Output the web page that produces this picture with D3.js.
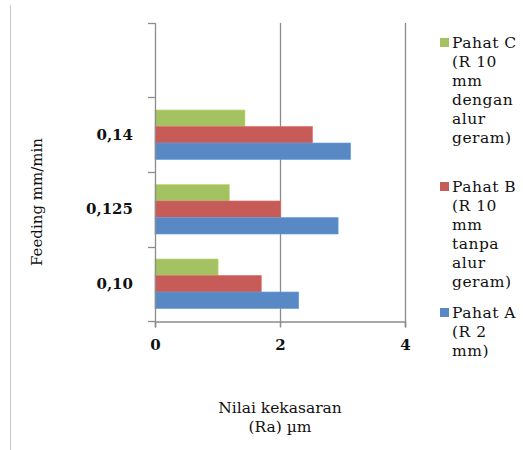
<!DOCTYPE html>
<html><head><meta charset="utf-8">
<script src="https://cdn.jsdelivr.net/npm/d3@7/dist/d3.min.js"></script>
<style>body{margin:0;background:#fff}svg{display:block}</style>
</head><body>
<svg id="c" width="523" height="450"></svg>
<script>
// Data
const categories = ["0,14", "0,125", "0,10"];          // top to bottom
const seriesNames = ["Pahat C", "Pahat B", "Pahat A"]; // top bar to bottom bar in each group
const pahatC = [1.44, 1.19, 1.01];
const pahatB = [2.52, 2.01, 1.70];
const pahatA = [3.13, 2.93, 2.30];
const xTicks = [0, 2, 4];
const legendLabels = [
  ["Pahat C", "(R 10", "mm", "dengan", "alur", "geram)"],
  ["Pahat B", "(R 10", "mm", "tanpa", "alur", "geram)"],
  ["Pahat A", "(R 2", "mm)"]
];
const colors = ["#a5c262", "#c75b58", "#5889c4"];

const svg = d3.select("#c");
const serif = "'DejaVu Serif', serif";

// left border line
svg.append("line").attr("x1", 10.5).attr("x2", 10.5).attr("y1", 5).attr("y2", 450)
  .attr("stroke", "#c8c8c8").attr("stroke-width", 1);

const x = d3.scaleLinear().domain([0, 4]).range([155, 405]);
const yDomain = [""].concat(categories); // blank top slot
const y = d3.scaleBand().domain(yDomain).range([23, 321]).paddingInner(0.335).paddingOuter(0.1675);
const inner = d3.scaleBand().domain(seriesNames).range([0, y.bandwidth()]);

const values = [pahatC, pahatB, pahatA];

// gridlines
svg.append("g").selectAll("line").data(xTicks.filter(t => t > 0)).join("line")
  .attr("x1", d => Math.round(x(d)) + 0.5).attr("x2", d => Math.round(x(d)) + 0.5)
  .attr("y1", 23).attr("y2", 327)
  .attr("stroke", "#8c8c8c").attr("stroke-width", 1.3);

// bars
categories.forEach((cat, ci) => {
  seriesNames.forEach((s, si) => {
    svg.append("rect")
      .attr("x", x(0))
      .attr("y", y(cat) + inner(s))
      .attr("width", x(values[si][ci]) - x(0))
      .attr("height", inner.bandwidth())
      .attr("fill", colors[si])
      .attr("stroke", d3.color(colors[si]).brighter(0.4))
      .attr("stroke-width", 0.6);
  });
});

// y axis line + ticks at band boundaries
const step = y.step();
const bounds = yDomain.map(d => y(d) - step * y.paddingInner() / 2).concat([321]);
svg.append("line").attr("x1", 155.5).attr("x2", 155.5).attr("y1", 23).attr("y2", 327)
  .attr("stroke", "#8c8c8c").attr("stroke-width", 1.3);
svg.append("g").selectAll("line").data(bounds).join("line")
  .attr("x1", 148).attr("x2", 155.5)
  .attr("y1", d => Math.round(d) + 0.5).attr("y2", d => Math.round(d) + 0.5)
  .attr("stroke", "#8c8c8c").attr("stroke-width", 1.3);

// x axis
const xAxis = d3.axisBottom(x).tickValues(xTicks).tickSize(6).tickFormat(d3.format("d"));
const gx = svg.append("g").attr("transform", "translate(0,321.5)").call(xAxis);
gx.select(".domain").attr("stroke", "#8c8c8c").attr("stroke-width", 1.3);
gx.selectAll(".tick line").attr("stroke", "#8c8c8c").attr("stroke-width", 1.3);
gx.selectAll(".tick text").attr("y", 28).attr("dy", 0)
  .attr("font-family", serif).attr("font-weight", "bold").attr("font-size", 15).attr("fill", "#111");

// y category labels
svg.append("g").selectAll("text").data(categories).join("text")
  .attr("x", 133).attr("y", d => y(d) + y.bandwidth() / 2 + 5)
  .attr("text-anchor", "end").attr("font-family", serif).attr("font-weight", "bold")
  .attr("font-size", 15).attr("fill", "#111").text(d => d);

// axis titles
svg.append("text").attr("transform", "translate(42,202) rotate(-90)")
  .attr("text-anchor", "middle").attr("font-family", serif).attr("font-size", 15)
  .attr("fill", "#111").text("Feeding mm/min");
const xt = svg.append("text").attr("text-anchor", "middle").attr("font-family", serif)
  .attr("font-size", 15.5).attr("fill", "#111");
xt.append("tspan").attr("x", 280).attr("y", 413).text("Nilai kekasaran");
xt.append("tspan").attr("x", 280).attr("y", 432).text("(Ra) µm");

// legend
const firstBaselines = [48, 192, 318];
legendLabels.forEach((lines, i) => {
  const b = firstBaselines[i];
  svg.append("rect").attr("x", 440).attr("y", b - 10).attr("width", 9).attr("height", 9)
    .attr("fill", colors[i]);
  const t = svg.append("text").attr("font-family", serif).attr("font-size", 15.5)
    .attr("letter-spacing", 0.5).attr("fill", "#111");
  lines.forEach((ln, k) => t.append("tspan").attr("x", 452).attr("y", b + k * 19).text(ln));
});
</script>
</body></html>
